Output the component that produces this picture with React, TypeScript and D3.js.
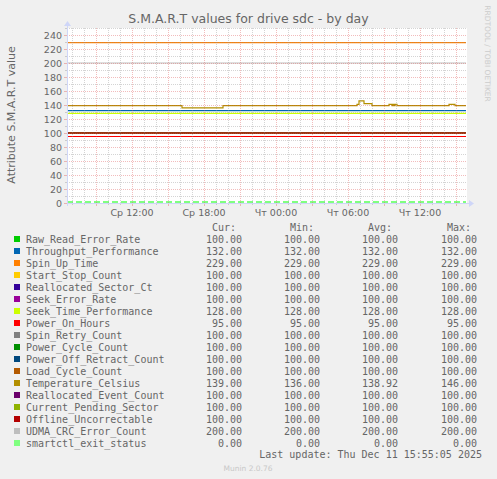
import React from "react";
import * as d3 from "d3";

const W = 497;
const H = 479;

const seriesNames = [
  "Raw_Read_Error_Rate",
  "Throughput_Performance",
  "Spin_Up_Time",
  "Start_Stop_Count",
  "Reallocated_Sector_Ct",
  "Seek_Error_Rate",
  "Seek_Time_Performance",
  "Power_On_Hours",
  "Spin_Retry_Count",
  "Power_Cycle_Count",
  "Power_Off_Retract_Count",
  "Load_Cycle_Count",
  "Temperature_Celsius",
  "Reallocated_Event_Count",
  "Current_Pending_Sector",
  "Offline_Uncorrectable",
  "UDMA_CRC_Error_Count",
  "smartctl_exit_status",
];

const seriesColors = [
  "#00cc00", "#0066b3", "#ff8000", "#ffcc00", "#330099", "#990099",
  "#ccff00", "#ff0000", "#808080", "#008f00", "#00487d", "#b35a00",
  "#b38f00", "#6b006b", "#8fb300", "#b30000", "#bebebe", "#80ff80",
];

const curValues = [100, 132, 229, 100, 100, 100, 128, 95, 100, 100, 100, 100, 139, 100, 100, 100, 200, 0];
const minValues = [100, 132, 229, 100, 100, 100, 128, 95, 100, 100, 100, 100, 136, 100, 100, 100, 200, 0];
const avgValues = [100, 132, 229, 100, 100, 100, 128, 95, 100, 100, 100, 100, 138.92, 100, 100, 100, 200, 0];
const maxValues = [100, 132, 229, 100, 100, 100, 128, 95, 100, 100, 100, 100, 146, 100, 100, 100, 200, 0];

// Temperature_Celsius change points (time, value)
const temperatureTimes = [
  "2025-12-10 06:35", "2025-12-10 16:10", "2025-12-10 19:35",
  "2025-12-11 06:45", "2025-12-11 06:55", "2025-12-11 07:20", "2025-12-11 08:00",
  "2025-12-11 09:25", "2025-12-11 09:40", "2025-12-11 09:45", "2025-12-11 09:50",
  "2025-12-11 09:55", "2025-12-11 10:05", "2025-12-11 14:25", "2025-12-11 14:55",
  "2025-12-11 15:50",
];
const temperatureValues = [139, 136, 139, 141, 146, 142, 139, 141, 139, 141, 139, 141, 139, 141, 139, 139];

const graphStart = "2025-12-10 06:35";
const graphEnd = "2025-12-11 15:55";
const dataEnd = "2025-12-11 15:50";

const dayNames = ["Вс", "Пн", "Вт", "Ср", "Чт", "Пт", "Сб"];

const title = "S.M.A.R.T values for drive sdc - by day";
const yTitle = "Attribute S.M.A.R.T value";
const lastUpdate = "Last update: Thu Dec 11 15:55:05 2025";
const version = "Munin 2.0.76";
const watermark = "RRDTOOL / TOBI OETIKER";

const parse = d3.timeParse("%Y-%m-%d %H:%M");

export default function App() {
  const t0 = parse(graphStart)!;
  const t1 = parse(graphEnd)!;
  const tEnd = parse(dataEnd)!;

  const L = 67, R = 467, T = 28, B = 203;
  const x = d3.scaleTime().domain([t0, t1]).range([L, R]);
  const y = d3.scaleLinear().domain([0, 250]).range([B, T]);

  const minorY = y.ticks(25);
  const majorY = minorY.filter((v) => v % 20 === 0);
  const minorX = x.ticks(d3.timeHour.every(1)!);
  const majorX = x.ticks(d3.timeHour.every(3)!);
  const labelX = x.ticks(d3.timeHour.every(6)!);

  const fmtTime = d3.timeFormat("%H:%M");
  const fmtX = (d: Date) => `${dayNames[d.getDay()]} ${fmtTime(d)}`;

  const line = d3
    .line<[Date, number]>()
    .x((d) => x(d[0]))
    .y((d) => y(d[1]))
    .curve(d3.curveStepAfter);

  const tempData: [Date, number][] = temperatureTimes.map((s, i) => [parse(s)!, temperatureValues[i]]);

  const sans = "'DejaVu Sans', sans-serif";
  const mono = "'DejaVu Sans Mono', monospace";
  const fontCol = "#666666";
  const axisCol = "#cfd6f8";
  const gridCol = "rgba(143,143,143,0.38)";
  const mgridCol = "rgba(222,79,79,0.38)";

  const rowY = (i: number) => 242.5 + i * 12;

  return (
    <div style={{ position: "absolute", left: 0, top: 0 }}>
      <svg width={W} height={H} style={{ display: "block" }}>
        <rect x={0} y={0} width={W} height={H} fill="#f0f0f0" />
        <rect x={L} y={T} width={R - L} height={B - T} fill="#ffffff" />

        {/* data lines */}
        {seriesNames.map((name, i) => {
          const data: [Date, number][] =
            name === "Temperature_Celsius"
              ? tempData
              : [
                  [t0, curValues[i]],
                  [tEnd, curValues[i]],
                ];
          const isZero = curValues[i] === 0 && name !== "Temperature_Celsius";
          return (
            <path
              key={name}
              d={line(data) || ""}
              fill="none"
              stroke={seriesColors[i]}
              strokeWidth={isZero ? 2 : 1.2}
              strokeDasharray={isZero ? "6,3" : undefined}
              transform={isZero ? "translate(0,-1)" : undefined}
            />
          );
        })}

        {/* grid on top */}
        <g shapeRendering="crispEdges">
          {minorY
            .filter((v) => v % 20 !== 0)
            .map((v) => (
              <g key={"my" + v}>
                <line x1={L} x2={R} y1={y(v) + 0.5} y2={y(v) + 0.5} stroke={gridCol} strokeDasharray="1,1" />
                <line x1={L - 2} x2={L} y1={y(v) + 0.5} y2={y(v) + 0.5} stroke={gridCol} />
              </g>
            ))}
          {minorX
            .filter((d) => d.getHours() % 3 !== 0)
            .map((d) => (
              <g key={"mx" + d.getTime()}>
                <line x1={x(d) + 0.5} x2={x(d) + 0.5} y1={T} y2={B} stroke={gridCol} strokeDasharray="1,1" />
                <line x1={x(d) + 0.5} x2={x(d) + 0.5} y1={B} y2={B + 2} stroke={gridCol} />
              </g>
            ))}
          {majorY.map((v) => (
            <g key={"My" + v}>
              <line x1={L} x2={R} y1={y(v) + 0.5} y2={y(v) + 0.5} stroke={mgridCol} strokeDasharray="1,1" />
              <line x1={L - 3} x2={L} y1={y(v) + 0.5} y2={y(v) + 0.5} stroke={mgridCol} />
            </g>
          ))}
          {majorX.map((d) => (
            <g key={"Mx" + d.getTime()}>
              <line x1={x(d) + 0.5} x2={x(d) + 0.5} y1={T} y2={B} stroke={mgridCol} strokeDasharray="1,1" />
              <line x1={x(d) + 0.5} x2={x(d) + 0.5} y1={B} y2={B + 3} stroke={mgridCol} />
            </g>
          ))}
          {/* axes */}
          <line x1={L} x2={R + 3} y1={B + 0.5} y2={B + 0.5} stroke={axisCol} />
          <line x1={L + 0.5} x2={L + 0.5} y1={B + 3} y2={T - 3} stroke={axisCol} />
        </g>
        <path d={`M${R + 2},${B - 3} L${R + 7},${B + 0.5} L${R + 2},${B + 4} Z`} fill={axisCol} />
        <path d={`M${L - 3},${T - 2} L${L + 0.5},${T - 7} L${L + 4},${T - 2} Z`} fill={axisCol} />

        {/* y tick labels */}
        {majorY.map((v) => (
          <text key={"yl" + v} x={62} y={y(v) + 3.5} textAnchor="end" fontFamily={sans} fontSize={9.5} fill={fontCol}>
            {v}
          </text>
        ))}
        {/* x tick labels */}
        {labelX.map((d) => (
          <text key={"xl" + d.getTime()} x={x(d)} y={215.5} textAnchor="middle" fontFamily={sans} fontSize={9.5} fill={fontCol}>
            {fmtX(d)}
          </text>
        ))}

        {/* titles */}
        <text x={248.5} y={23} textAnchor="middle" fontFamily={sans} fontSize={12.5} fill={fontCol}>
          {title}
        </text>
        <text transform="translate(15,115) rotate(-90)" textAnchor="middle" fontFamily={sans} fontSize={11} fill={fontCol}>
          {yTitle}
        </text>
        <text transform="translate(485,53.5) rotate(90)" textAnchor="middle" fontFamily={sans} fontSize={7.5} fill="#cccccc">
          {watermark}
        </text>

        {/* legend */}
        <g fontFamily={mono} fontSize={10} fill={fontCol}>
          <text x={236} y={230.5} textAnchor="end">Cur:</text>
          <text x={314} y={230.5} textAnchor="end">Min:</text>
          <text x={392} y={230.5} textAnchor="end">Avg:</text>
          <text x={471} y={230.5} textAnchor="end">Max:</text>
          {seriesNames.map((name, i) => (
            <g key={"lg" + name}>
              <rect x={14} y={rowY(i) - 6.5} width={6} height={6} fill={seriesColors[i]} />
              <text x={26} y={rowY(i)}>{name}</text>
              <text x={242} y={rowY(i)} textAnchor="end">{curValues[i].toFixed(2)}</text>
              <text x={320} y={rowY(i)} textAnchor="end">{minValues[i].toFixed(2)}</text>
              <text x={398} y={rowY(i)} textAnchor="end">{avgValues[i].toFixed(2)}</text>
              <text x={477} y={rowY(i)} textAnchor="end">{maxValues[i].toFixed(2)}</text>
            </g>
          ))}
          <text x={482} y={rowY(18) - 0.5} textAnchor="end">{lastUpdate}</text>
        </g>
        <text x={248} y={471} textAnchor="middle" fontFamily={sans} fontSize={7.5} fill="#c8c8c8">
          {version}
        </text>
      </svg>
    </div>
  );
}
